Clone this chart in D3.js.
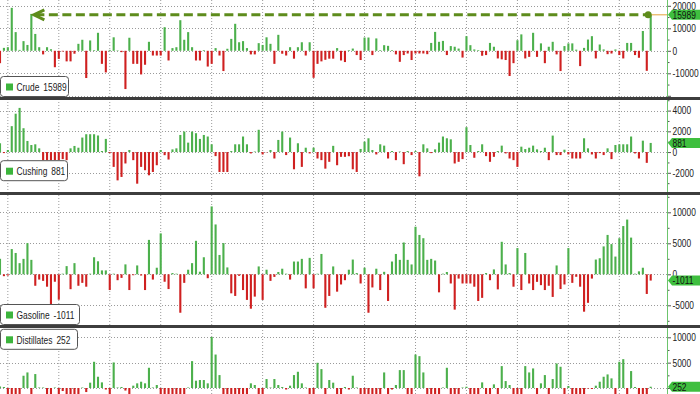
<!DOCTYPE html>
<html><head><meta charset="utf-8">
<script src="https://cdn.jsdelivr.net/npm/d3@7"></script>
<style>
html,body{margin:0;padding:0;background:#fff;overflow:hidden}
svg{display:block}
text{font-family:"Liberation Sans",Arial,sans-serif}
</style></head><body>
<svg id="c" width="700" height="394"></svg>
<script>
const weeks = d3.range(167);
const crude = [-5500,1300,1600,19100,8300,400,4300,2600,16400,7500,
1600,-1600,1600,700,-7300,-3600,-300,-4700,-4700,-1300,
3100,4900,-12100,4600,300,8000,-5800,-9600,400,6000,
200,-600,-17000,5800,-5800,-5800,-10500,-6200,4000,-2100,
-2100,-2100,10500,-4300,1200,1600,13600,4900,8300,1600,
-4300,-4300,300,-7000,-5800,1200,-2100,-9000,900,5300,
12000,3800,4300,1200,-1600,-1600,3400,2600,6000,3100,
-5800,7100,-1300,-2100,1600,-3500,1600,3800,-2100,3800,
-12000,-5800,-4700,-4000,-3500,-3500,1200,-4300,-5000,300,
1000,-1900,-4100,5900,5900,-1900,5500,300,2500,2200,
300,-1600,-4900,-1900,-1200,-4100,-1200,-1200,-1200,-1500,
3500,8400,4000,4400,-1900,2100,1800,1000,-3000,6500,
2500,600,300,-2200,-1900,3500,1800,-3400,-3800,-4100,
-11200,-5500,4700,7300,-3400,-2700,8000,-2700,3300,-5500,
1800,4000,-1600,-9000,2100,3300,3300,500,-6800,1300,
5000,6500,-3400,2800,600,-1500,-1200,600,-1900,-3400,
3500,3500,-1900,-3100,8800,-8900,15989];
const cushing = [850,-100,200,2500,3700,4260,2300,1070,680,750,
360,-780,-780,-780,-780,-780,-680,-780,360,590,
420,1400,1720,1720,1720,1600,100,1270,-100,-1430,
-2730,-2400,-1100,200,-780,-3050,-1430,-1750,-2240,-1920,
-1270,200,-300,-720,260,360,1650,1980,910,1980,
1820,1270,1650,1500,750,-390,-1920,-1920,-1920,100,
750,750,1500,750,-130,50,2150,-230,-30,200,
-620,1170,1980,-290,1400,-1660,850,-1430,420,-130,
420,-620,-780,-1600,-940,600,-1270,-460,-460,-400,
-1660,-1920,300,1000,1330,200,-230,750,620,-620,
100,-780,50,-1170,100,-290,100,-2340,750,360,
-100,260,910,1500,1330,1230,-1100,-940,-680,2400,
680,-550,100,750,-390,-940,-460,100,620,-130,
-620,-780,-1430,520,290,420,620,260,100,420,
-780,1590,-290,-290,230,-230,-620,-620,-620,1330,
360,-230,-620,-100,-290,360,-680,680,750,750,
750,1500,-130,-620,1100,-1040,881];
const gasoline = [2500,-300,-200,4070,3440,1800,2490,5030,2330,-1850,
-850,-1060,-2000,-4900,-1200,-4100,100,1320,-2400,1800,
-1850,-1380,-2000,100,2750,2100,630,630,-2540,100,
-950,-580,1600,-2540,-150,1430,-200,-2540,5550,-850,
1060,6600,-1200,-2380,200,100,-6200,-1380,740,1800,
5400,420,2750,-630,10950,8040,3120,5030,1110,-3070,
-3490,-250,-2540,-4130,-5550,-3600,1270,-4130,740,-1060,
-420,370,900,100,-850,2060,2060,2490,-2270,2650,
-2270,100,3280,-5400,-3490,1270,-2800,-1640,-950,740,
2380,200,-1480,1060,-6200,-2120,900,-2540,400,-4300,
2060,3280,2330,5130,2330,1590,7670,6350,5820,2330,
2490,2220,-2910,100,370,-1480,-5700,-690,-1480,-1480,
-1480,-2000,-4300,-3800,200,-950,790,-2430,5240,1590,
200,-2000,4230,-2540,3440,-1480,-2540,-1220,-1750,-2540,
-1850,-3650,1430,-2380,-1640,4230,-1380,-400,-2000,-6030,
-4600,-690,2380,2590,4500,6350,4870,2860,5820,7780,
8830,5920,100,480,1060,-3170,-1011];
const distillates = [300,200,-1500,-2000,-2500,-1800,2420,3070,-2000,2750,
100,100,-2000,-2200,100,-2500,-600,-2000,-2500,-1500,
-2500,100,-800,1050,5170,2220,1110,-300,-2000,5040,
100,200,-500,-2000,460,920,1240,920,3990,100,
590,-2500,-2000,-2500,-1800,-2200,-3000,-2000,100,5300,
1440,1570,1570,920,10070,6600,2550,-2500,-2000,-2200,
-2500,-1800,-3000,-2000,920,590,-2000,-2500,1770,100,
1770,590,200,-300,460,2550,3200,920,100,-2000,
-1800,4970,3730,-2500,1570,1050,-2000,-1500,200,-300,
2420,100,-2000,-2500,-2200,-1800,-2500,-2000,3070,-2000,
-300,590,3530,3530,-2000,-1500,6600,6280,3070,-2000,
-2500,-1800,-2000,100,3990,-2500,-2000,-1800,100,250,
-2200,-2000,-2500,1110,-2000,-1500,720,-2000,4320,1370,
590,-2000,-2500,-1800,4320,3070,3860,-2000,920,2550,
-1500,1770,4840,4190,-2000,400,-2500,-2000,-2200,-1800,
-100,-200,460,1240,2220,2680,1900,-2000,5170,5690,
-2000,3340,200,-2000,-2500,-1800,252];

const seriesNames = ["Crude","Cushing","Gasoline","Distillates"];
const lastLabels = ["15989","881","-1011","252"];
const crudeTicks = [-20000,-10000,0,10000,20000];
const cushingTicks = [-2000,0,2000,4000];
const gasolineTicks = [-5000,0,5000,10000];
const distillatesTicks = [0,5000,10000];
const gridEvery = 13;

const GREEN = "#4cb04c", RED = "#cf2020", BOXGREEN = "#3fbf3f";
const NARROW = 0.8;
const svg = d3.select("#c");
const axisX = 667;
const x = d3.scaleLinear().domain([0, weeks.length - 1]).range([0, 650.7]);

const panels = [
  {values: crude, ticks: crudeTicks, minorStep: 5000, labelSkip:[-20000],
   y: d3.scaleLinear().domain([-10000, 20000]).range([73.3, 5.8]),
   clip: [0, 97], legend: {y: 76.5, w: 68}},
  {values: cushing, ticks: cushingTicks, minorStep: 1000, labelSkip:[],
   y: d3.scaleLinear().domain([-2000, 4000]).range([172.8, 110.6]),
   clip: [100, 192], legend: {y: 160.7, w: 67}},
  {values: gasoline, ticks: gasolineTicks, minorStep: 2500, labelSkip:[],
   y: d3.scaleLinear().domain([-5000, 10000]).range([305.3, 212.3]),
   clip: [195, 325], legend: {y: 304.5, w: 79}},
  {values: distillates, ticks: distillatesTicks, minorStep: 2500, labelSkip:[0],
   y: d3.scaleLinear().domain([0, 10000]).range([388, 337.3]),
   clip: [328, 394], legend: {y: 329.3, w: 77}}
];

const defs = svg.append("defs");
panels.forEach((p, k) => {
  defs.append("clipPath").attr("id", "clip" + k)
    .append("rect").attr("x", -5).attr("y", p.clip[0]).attr("width", axisX + 5).attr("height", p.clip[1] - p.clip[0]);
});

// vertical grid
const gridWeeks = weeks.filter(i => i % gridEvery === 2);
svg.append("g").selectAll("line").data(gridWeeks).join("line")
  .attr("x1", d => x(d)).attr("x2", d => x(d)).attr("y1", 0).attr("y2", 394)
  .attr("stroke", "#9a9a9a").attr("stroke-width", 1).attr("stroke-dasharray", "1,2");

panels.forEach((p, k) => {
  const g = svg.append("g");
  g.selectAll("line.h").data(p.ticks).join("line").attr("class", "h")
    .attr("x1", 0).attr("x2", axisX).attr("y1", d => Math.round(p.y(d)) + 0.5).attr("y2", d => Math.round(p.y(d)) + 0.5)
    .attr("stroke", "#9a9a9a").attr("stroke-dasharray", "1,2").attr("clip-path", `url(#clip${k})`);
  g.append("g").attr("clip-path", `url(#clip${k})`)
    .selectAll("rect").data(p.values).join("rect")
    .attr("x", (d, i) => x(i) - 1.05).attr("width", 2.1)
    .attr("y", d => p.y(Math.max(0, d)))
    .attr("height", d => Math.abs(p.y(d) - p.y(0)))
    .attr("fill", d => d >= 0 ? GREEN : RED);
  const a = p.y.invert(p.clip[1]), b = p.y.invert(p.clip[0]);
  const lo = Math.min(a, b), hi = Math.max(a, b);
  const minors = d3.range(Math.ceil(lo / p.minorStep) * p.minorStep, hi, p.minorStep).filter(v => !p.ticks.includes(v));
  const gm = g.append("g").attr("transform", `translate(${axisX},0)`)
    .call(d3.axisRight(p.y).tickValues(minors).tickSize(2.5).tickFormat(""));
  gm.select(".domain").remove();
  gm.selectAll("line").attr("stroke", "#555");
  const ax = d3.axisRight(p.y).tickValues(p.ticks).tickSize(4).tickPadding(1.5)
    .tickFormat(d => p.labelSkip.includes(d) ? "" : String(d));
  const ga = g.append("g").attr("transform", `translate(${axisX},0)`).call(ax);
  ga.select(".domain").remove();
  ga.selectAll("line").attr("stroke", "#555");
  ga.selectAll("text").attr("font-size", 10.5).attr("fill", "#222")
    .attr("x", 0).attr("transform", `translate(5.5,0) scale(${NARROW},1)`);
  ga.selectAll(".tick").filter(d => p.y(d) < p.clip[0] - 1 || p.y(d) > p.clip[1] + 1).remove();
});

svg.append("line").attr("x1", axisX + 0.5).attr("x2", axisX + 0.5).attr("y1", 0).attr("y2", 394)
  .attr("stroke", "#6cc46c").attr("stroke-width", 1);

[97, 192, 325].forEach(yy => {
  svg.append("rect").attr("x", 0).attr("y", yy).attr("width", 700).attr("height", 3).attr("fill", "#3d3d3d");
});

// annotation in crude panel
const c = panels[0];
const lastI = weeks.length - 1;
const annY = c.y(crude[lastI]);
svg.append("line").attr("x1", x(lastI)).attr("x2", axisX).attr("y1", annY).attr("y2", annY)
  .attr("stroke", "#e4a23a").attr("stroke-width", 1);
svg.append("line").attr("x1", x(8) + 4).attr("x2", x(lastI) - 3).attr("y1", annY).attr("y2", annY)
  .attr("stroke", "#5e8c1c").attr("stroke-width", 3).attr("stroke-dasharray", "9,4.5");
svg.append("path").attr("d", `M${x(8) + 13},${annY - 5} L${x(8) + 2.5},${annY} L${x(8) + 13},${annY + 5}`)
  .attr("fill", "none").attr("stroke", "#5e8c1c").attr("stroke-width", 3);
svg.append("circle").attr("cx", x(lastI) - 2.5).attr("cy", annY).attr("r", 3.5).attr("fill", "#5e8c1c");

// last value labels
panels.forEach((p, k) => {
  const v = p.values[p.values.length - 1];
  const cy = p.y(v), h = 10;
  const g = svg.append("g");
  g.append("path").attr("d", `M${axisX + 1},${cy} L${axisX + 5},${cy - h / 2} L700,${cy - h / 2} L700,${cy + h / 2} L${axisX + 5},${cy + h / 2} Z`)
    .attr("fill", BOXGREEN);
  g.append("text").attr("transform", `translate(${axisX + 5.5},${cy}) scale(${NARROW},1)`).attr("dy", "0.36em")
    .attr("font-size", 10.5).attr("fill", "#111").text(lastLabels[k]);
});

// legends
panels.forEach((p, k) => {
  const g = svg.append("g").attr("transform", `translate(0.5,${p.legend.y})`);
  g.append("rect").attr("x", 0).attr("y", 0).attr("width", p.legend.w).attr("height", 20).attr("rx", 3)
    .attr("fill", "#fff").attr("stroke", "#555").attr("stroke-width", 1);
  g.append("rect").attr("x", 5.5).attr("y", 7).attr("width", 7).attr("height", 7).attr("fill", "#3cb43c");
  const t = g.append("text").attr("transform", `translate(16,14.3) scale(${NARROW},1)`)
    .attr("font-size", 10.5).attr("fill", "#222");
  t.append("tspan").text(seriesNames[k]);
  t.append("tspan").attr("dx", 5).text(lastLabels[k]);
});
</script>
</body></html>
